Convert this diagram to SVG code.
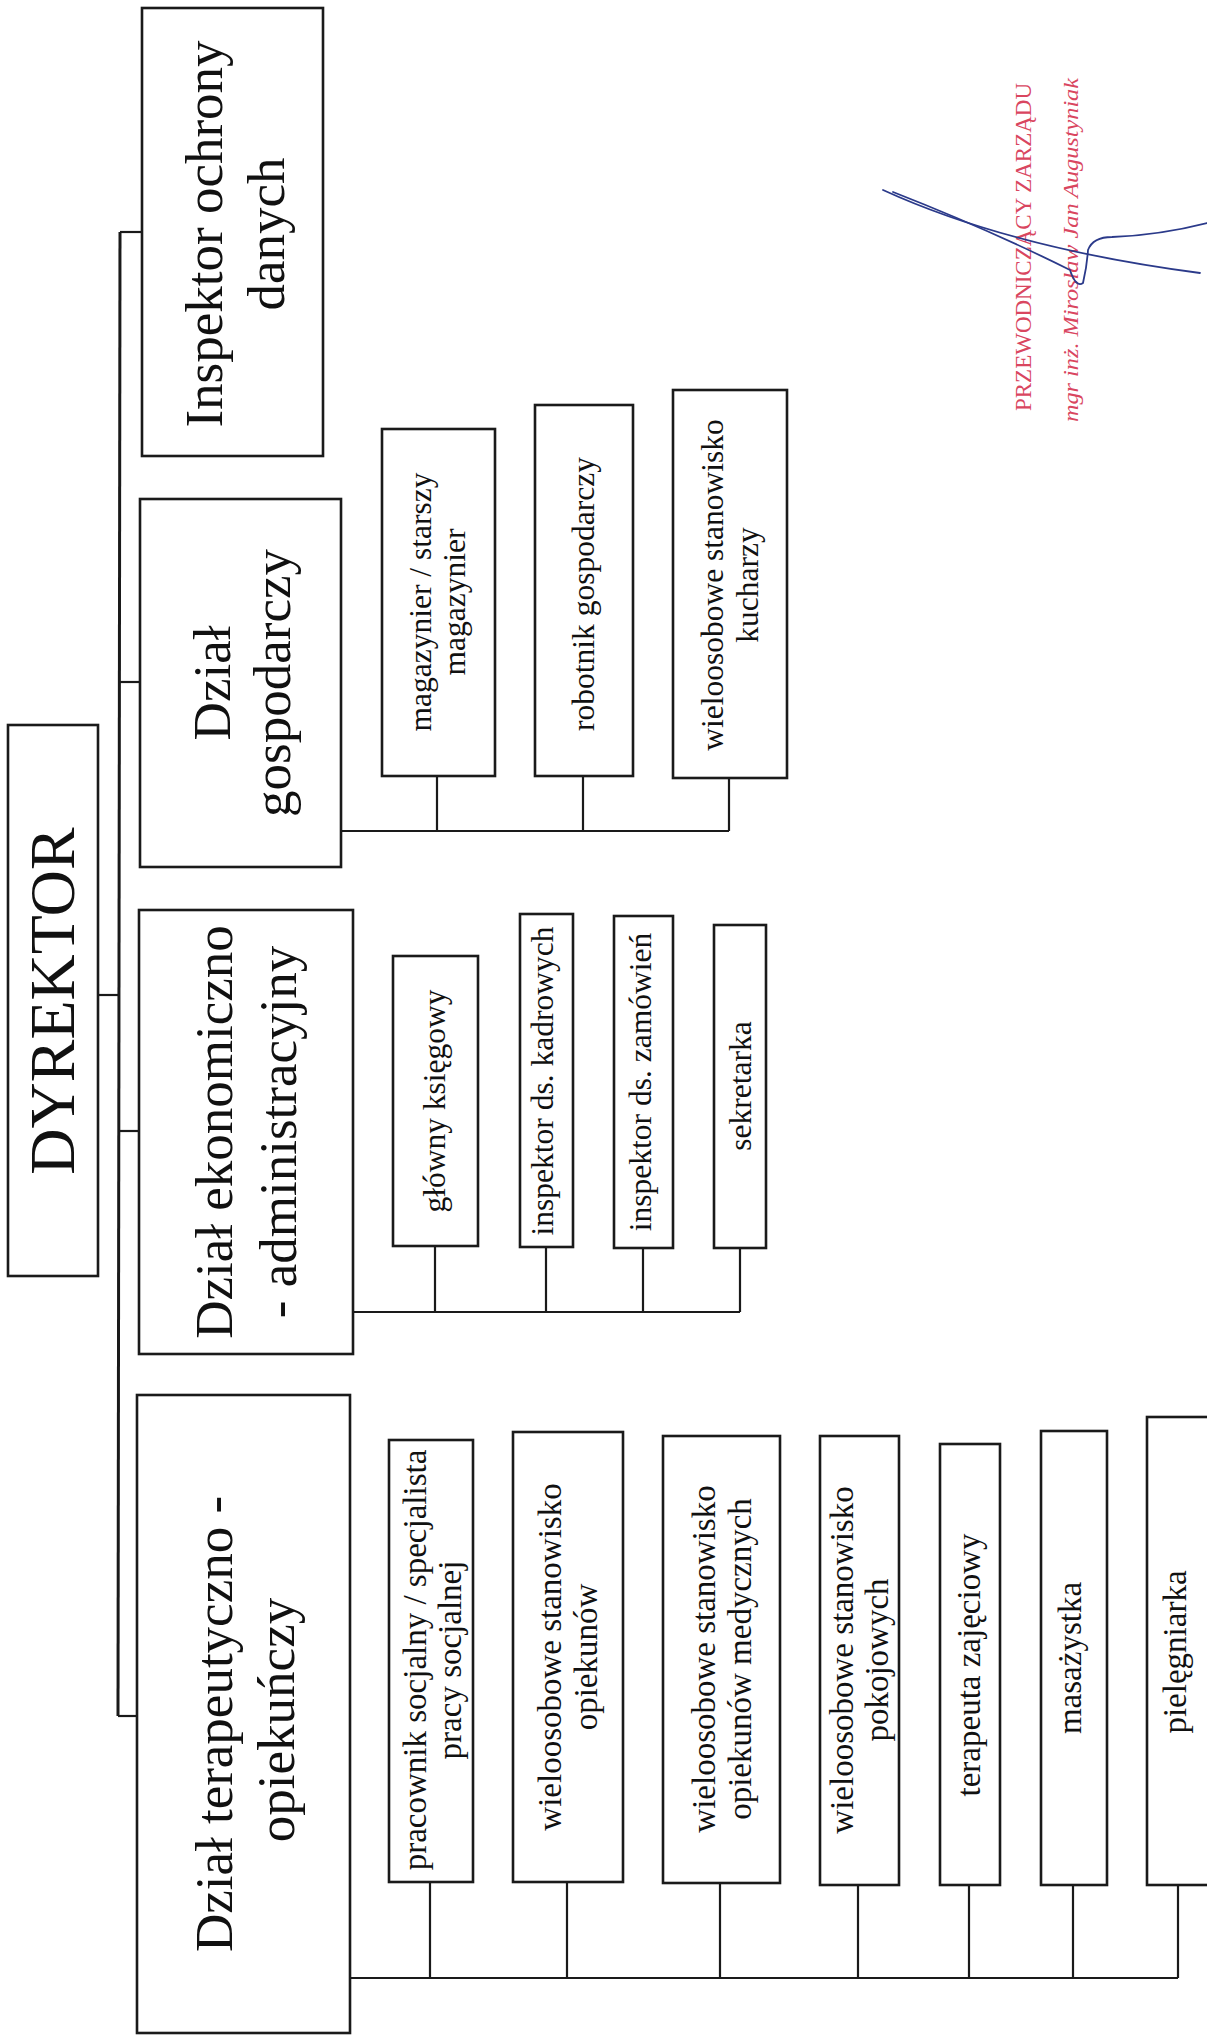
<svg xmlns="http://www.w3.org/2000/svg" width="1207" height="2037" viewBox="0 0 1207 2037">
<style>
.box{fill:#fff;stroke:#1a1a1a;stroke-width:2.6}
.ln{fill:none;stroke:#1a1a1a;stroke-width:2.2}
.sp{fill:none;stroke:#1a1a1a;stroke-width:3}
.t{font-family:"Liberation Serif","Times New Roman",serif;fill:#111;text-anchor:middle}
.big{font-size:64px}
.dep{font-size:53px}
.ch{font-size:31.5px}
.ch3{font-size:33px}
.stamp{font-family:"Liberation Serif","Times New Roman",serif;fill:#d9465f;text-anchor:middle}
.sig{fill:none;stroke:#2b3a8a;stroke-width:1.8;stroke-linecap:round}
</style>
<rect width="1207" height="2037" fill="#fff"/>

<g id="connectors">
<path class="ln" d="M98,995 H119"/>
<path class="sp" d="M120,232 L118,1716"/>
<path class="ln" d="M120,232 H142"/>
<path class="ln" d="M120,682 H140"/>
<path class="ln" d="M119,1131 H139"/>
<path class="ln" d="M118,1716 H137"/>
<path class="ln" d="M341,831 H729 M437,776 V831 M583,776 V831 M729,778 V831"/>
<path class="ln" d="M353,1312 H740 M435,1246 V1312 M546,1247 V1312 M643,1248 V1312 M740,1248 V1312"/>
<path class="ln" d="M350,1978 H1178 M430,1882 V1978 M567,1882 V1978 M720,1883 V1978 M858,1885 V1978 M969,1885 V1978 M1073,1885 V1978 M1178,1885 V1978"/>
</g>

<g id="dyrektor">
<rect class="box" x="8" y="725" width="90" height="551"/>
<text class="t big" transform="translate(74,1001) rotate(-90)">DYREKTOR</text>
</g>

<g id="inspektor-ochrony-danych">
<rect class="box" x="142" y="8" width="181" height="448"/>
<text class="t dep" transform="translate(222,234) rotate(-90)">Inspektor ochrony</text>
<text class="t dep" transform="translate(284,234) rotate(-90)">danych</text>
</g>

<g id="dzial-gospodarczy">
<rect class="box" x="140" y="499" width="201" height="368"/>
<text class="t dep" transform="translate(230,683) rotate(-90)">Dział</text>
<text class="t dep" transform="translate(290,683) rotate(-90)">gospodarczy</text>
</g>

<g id="dzial-ekonomiczno-administracyjny">
<rect class="box" x="139" y="910" width="214" height="444"/>
<text class="t dep" transform="translate(232,1132) rotate(-90)">Dział ekonomiczno</text>
<text class="t dep" transform="translate(296,1132) rotate(-90)">- administracyjny</text>
</g>

<g id="dzial-terapeutyczno-opiekunczy">
<rect class="box" x="137" y="1395" width="213" height="638"/>
<text class="t dep" transform="translate(232,1724) rotate(-90)">Dział terapeutyczno -</text>
<text class="t dep" transform="translate(294,1720) rotate(-90)">opiekuńczy</text>
</g>

<g id="magazynier">
<rect class="box" x="382" y="429" width="113" height="347"/>
<text class="t ch" transform="translate(431,602) rotate(-90)">magazynier / starszy</text>
<text class="t ch" transform="translate(465,602) rotate(-90)">magazynier</text>
</g>
<g id="robotnik-gospodarczy">
<rect class="box" x="535" y="405" width="98" height="371"/>
<text class="t ch" transform="translate(594,594) rotate(-90)">robotnik gospodarczy</text>
</g>
<g id="kucharze">
<rect class="box" x="673" y="390" width="114" height="388"/>
<text class="t ch" transform="translate(723,585) rotate(-90)">wieloosobowe stanowisko</text>
<text class="t ch" transform="translate(758,585) rotate(-90)">kucharzy</text>
</g>

<g id="glowny-ksiegowy">
<rect class="box" x="393" y="956" width="85" height="290"/>
<text class="t ch" transform="translate(445,1101) rotate(-90)">główny księgowy</text>
</g>
<g id="inspektor-kadrowych">
<rect class="box" x="520" y="914" width="53" height="333"/>
<text class="t ch" transform="translate(553,1081) rotate(-90)">inspektor ds. kadrowych</text>
</g>
<g id="inspektor-zamowien">
<rect class="box" x="614" y="916" width="59" height="332"/>
<text class="t ch" transform="translate(651,1082) rotate(-90)">inspektor ds. zamówień</text>
</g>
<g id="sekretarka">
<rect class="box" x="714" y="925" width="52" height="323"/>
<text class="t ch" transform="translate(751,1086) rotate(-90)">sekretarka</text>
</g>

<g id="pracownik-socjalny">
<rect class="box" x="389" y="1440" width="84" height="442"/>
<text class="t ch3" transform="translate(426,1660) rotate(-90)">pracownik socjalny / specjalista</text>
<text class="t ch3" transform="translate(461,1660) rotate(-90)">pracy socjalnej</text>
</g>
<g id="opiekunowie">
<rect class="box" x="513" y="1432" width="110" height="450"/>
<text class="t ch3" transform="translate(561,1657) rotate(-90)">wieloosobowe stanowisko</text>
<text class="t ch3" transform="translate(597,1657) rotate(-90)">opiekunów</text>
</g>
<g id="opiekunowie-medyczni">
<rect class="box" x="663" y="1436" width="117" height="447"/>
<text class="t ch3" transform="translate(715,1659) rotate(-90)">wieloosobowe stanowisko</text>
<text class="t ch3" transform="translate(751,1659) rotate(-90)">opiekunów medycznych</text>
</g>
<g id="pokojowi">
<rect class="box" x="820" y="1436" width="79" height="449"/>
<text class="t ch3" transform="translate(853,1660) rotate(-90)">wieloosobowe stanowisko</text>
<text class="t ch3" transform="translate(888,1660) rotate(-90)">pokojowych</text>
</g>
<g id="terapeuta-zajeciowy">
<rect class="box" x="940" y="1444" width="60" height="441"/>
<text class="t ch3" transform="translate(980,1665) rotate(-90)">terapeuta zajęciowy</text>
</g>
<g id="masazystka">
<rect class="box" x="1041" y="1431" width="66" height="454"/>
<text class="t ch3" transform="translate(1081,1658) rotate(-90)">masażystka</text>
</g>
<g id="pielegniarka">
<rect class="box" x="1147" y="1417" width="66" height="468"/>
<text class="t ch3" transform="translate(1186,1652) rotate(-90)">pielęgniarka</text>
</g>

<g id="stamp">
<text class="stamp" font-size="24" textLength="328" lengthAdjust="spacingAndGlyphs" transform="translate(1031,247) rotate(-90)">PRZEWODNICZĄCY ZARZĄDU</text>
<text class="stamp" font-size="22" font-style="italic" textLength="344" lengthAdjust="spacingAndGlyphs" transform="translate(1078,250) rotate(-90)">mgr inż. Mirosław Jan Augustyniak</text>
<path class="sig" d="M883,190 Q1010,248 1200,273"/>
<path class="sig" d="M893,192 Q990,230 1070,270 Q1076,288 1083,283 Q1087,266 1088,250 Q1093,237 1112,237 Q1160,235 1207,223"/>
</g>
</svg>
